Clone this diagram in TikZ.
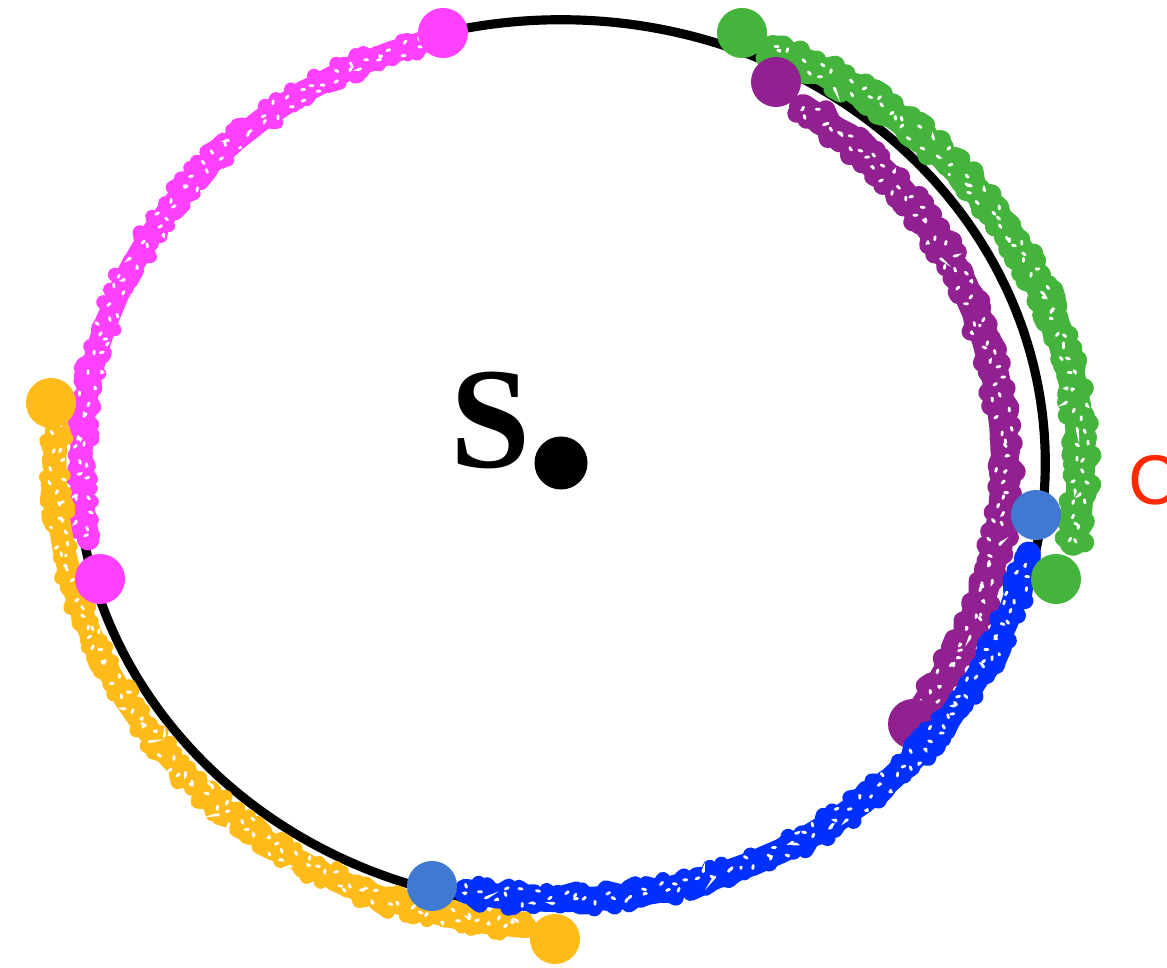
\documentclass[tikz,border=0pt]{standalone}
\usepackage{fontspec}
\setmainfont{Liberation Serif}
\newfontfamily\labelsans{Liberation Sans}
\usetikzlibrary{decorations.pathmorphing}
\definecolor{cmag}{RGB}{255,64,255}
\definecolor{cyel}{RGB}{255,187,26}
\definecolor{cgrn}{RGB}{68,180,60}
\definecolor{cpur}{RGB}{145,32,145}
\definecolor{cblu}{RGB}{0,48,255}
\definecolor{cdot}{RGB}{64,120,210}
\definecolor{cred}{RGB}{255,40,0}
\tikzset{
  bandbase/.style={line width=#1, line cap=round, line join=round},
  bandrough/.style={line width=#1, line cap=round, line join=round,
     decorate, decoration={random steps, segment length=1.1pt, amplitude=2.1pt}},
  speckle/.style={white, line width=0.8pt, line cap=round, dash pattern=on 0.9pt off 7pt,
     decorate, decoration={random steps, segment length=1.3pt, amplitude=2.2pt}},
  dotnode/.style={circle, fill=#1, minimum size=0.5cm, inner sep=0pt},
}
\newcommand{\bandarc}[6]{% color, width, from, to, rx, ry
  \draw[#1, bandbase=#2] plot[domain=#3:#4, samples=24] ({561+#5*cos(\x)}, {463-#6*sin(\x)});
  \draw[#1, bandrough=#2-2.4pt] plot[domain=#3:#4, samples=24] ({561+(#5+4)*cos(\x)}, {463-(#6+4)*sin(\x)});
  \draw[#1, bandrough=#2-2.8pt] plot[domain=#3:#4, samples=24] ({561+(#5-4)*cos(\x)}, {463-(#6-4)*sin(\x)});
  \draw[speckle] plot[domain=#3:#4, samples=24] ({561+(#5+3)*cos(\x)}, {463-(#6+3)*sin(\x)});
  \draw[speckle] plot[domain=#3:#4, samples=24] ({561+(#5-4)*cos(\x)}, {463-(#6-4)*sin(\x)});
}
\begin{document}
\begin{tikzpicture}[x=0.01cm, y=-0.01cm]
\pgfmathsetseed{11}
\useasboundingbox (0,0) rectangle (1167,968);
\clip (0,0) rectangle (1167,968);
% main ellipse
\draw[line width=2.6pt] (561,463) ellipse [x radius=4.84cm, y radius=4.43cm];
% magenta band
\bandarc{cmag}{6.4pt}{107}{190}{480}{439}
% yellow band
\bandarc{cyel}{6.4pt}{175}{266}{506}{465}
% green band
\bandarc{cgrn}{8pt}{-10}{66}{520}{453}
% purple band
\bandarc{cpur}{8pt}{-35}{57}{444}{423}
% purple dots (under blue band)
\node[dotnode=cpur] (p1) at (776,82) {};
\node[dotnode=cpur] (p2) at (913,724) {};
% blue band
\bandarc{cblu}{7pt}{258.5}{348}{478}{437}
% dots
\node[dotnode=cmag] (m1) at (443,33) {};
\node[dotnode=cmag] (m2) at (100,579) {};
\node[dotnode=cyel] (y1) at (51,403) {};
\node[dotnode=cyel] (y2) at (555,939) {};
\node[dotnode=cgrn] (g1) at (742,33) {};
\node[dotnode=cgrn] (g2) at (1056,579) {};
\node[dotnode=cdot] (b1) at (1036,515) {};
\node[dotnode=cdot] (b2) at (432,886) {};
% center
\node[circle, fill=black, minimum width=0.49cm, minimum height=0.53cm, inner sep=0pt] (s) at (561,463) {};
\node[inner sep=0pt, anchor=base, font=\bfseries\fontsize{41}{41}\selectfont] (slab) at (491,468) {S};
\node[inner sep=0pt, anchor=base west, text=cred, font=\labelsans\fontsize{20}{20}\selectfont] (clab) at (1128,505) {C};
\end{tikzpicture}
\end{document}
